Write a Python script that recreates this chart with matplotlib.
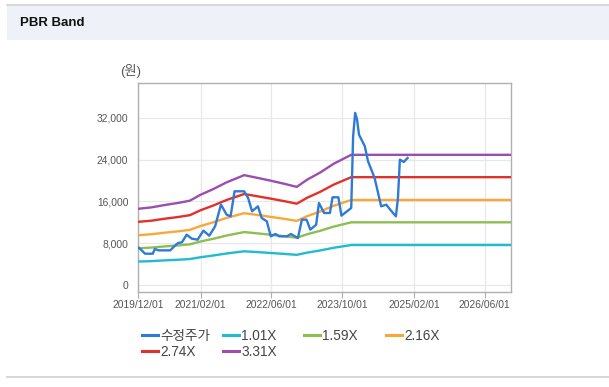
import matplotlib
matplotlib.use("Agg")
import matplotlib.pyplot as plt
import matplotlib.dates as mdates
from matplotlib.patches import Rectangle
from matplotlib.lines import Line2D
import numpy as np
import pandas as pd

plt.rcParams['font.family'] = ['Liberation Sans', 'Noto Sans CJK KR', 'DejaVu Sans']

# ---------------- data ----------------
price_dates = ["2019-12-01", "2019-12-22", "2020-01-18", "2020-03-11", "2020-03-25", "2020-04-20",
               "2020-07-09", "2020-08-05", "2020-08-31", "2020-09-27", "2020-10-29", "2020-12-03",
               "2021-01-12", "2021-02-21", "2021-04-02", "2021-05-12", "2021-06-21", "2021-07-30",
               "2021-08-26", "2021-09-22", "2021-11-27", "2021-12-24", "2022-01-20", "2022-03-01",
               "2022-03-27", "2022-05-01", "2022-05-28", "2022-06-29", "2022-07-25", "2022-09-16",
               "2022-10-13", "2022-11-09", "2022-11-30", "2022-12-27", "2023-01-28", "2023-02-23",
               "2023-04-04", "2023-04-23", "2023-05-28", "2023-07-07", "2023-07-25", "2023-09-03",
               "2023-09-24", "2023-11-30", "2023-12-13", "2023-12-27", "2024-01-09", "2024-01-22",
               "2024-03-02", "2024-03-24", "2024-05-08", "2024-06-22", "2024-07-27", "2024-08-23",
               "2024-10-01", "2024-10-15", "2024-10-28", "2024-11-24", "2024-12-20"]
price_values = [7170, 6720, 5950, 5950, 6850, 6590,
                6590, 7360, 8000, 8130, 9600, 8830,
                8640, 10370, 9400, 11200, 15360, 13440,
                13120, 17920, 17920, 16640, 14080, 15040,
                12800, 12160, 9280, 9730, 9280, 9280,
                9730, 9280, 8960, 12480, 12480, 10560,
                11520, 15680, 13760, 13760, 16770, 16770,
                13250, 14720, 28480, 32960, 31680, 28800,
                26560, 23680, 20480, 15040, 15360, 14400,
                13120, 16640, 24000, 23550, 24320]

band_dates = ["2019-12-01", "2020-03-01", "2020-06-01", "2020-09-01", "2020-11-20", "2021-02-01",
              "2021-05-01", "2021-08-01", "2021-11-27", "2022-03-01", "2022-06-01", "2022-09-01",
              "2022-11-22", "2023-02-01", "2023-05-01", "2023-08-01", "2023-11-30", "2026-12-01"]
band_101 = [4440, 4520, 4670, 4790, 4920, 5270, 5610, 6000, 6410, 6250, 6080, 5900,
            5730, 6150, 6570, 7080, 7610, 7610]
band_159 = [7000, 7120, 7350, 7540, 7740, 8290, 8820, 9450, 10100, 9840, 9570, 9290,
            9020, 9680, 10340, 11140, 11970, 11970]
band_216 = [9500, 9680, 9980, 10240, 10520, 11260, 11990, 12840, 13720, 13370, 13000, 12620,
            12250, 13150, 14040, 15130, 16260, 16260]
band_274 = [12060, 12280, 12660, 12990, 13340, 14280, 15210, 16280, 17400, 16950, 16490, 16010,
            15540, 16680, 17810, 19190, 20630, 20630]
band_331 = [14560, 14830, 15290, 15690, 16120, 17250, 18370, 19670, 21020, 20480, 19930, 19340,
            18770, 20150, 21520, 23190, 24920, 24920]

series_labels = ["수정주가", "1.01X", "1.59X", "2.16X", "2.74X", "3.31X"]
series_colors = ["#2f7ad6", "#1fbccf", "#8cbf4f", "#f8a838", "#e2302b", "#9a4ead"]

x_ticks = ["2019-12-01", "2021-02-01", "2022-06-01", "2023-10-01", "2025-02-01", "2026-06-01"]
y_ticks = [0, 8000, 16000, 24000, 32000]

# ---------------- figure ----------------
W, H = 609, 387
fig = plt.figure(figsize=(W / 100, H / 100), dpi=100)
fig.patch.set_facecolor("white")

def fx(px):
    return px / W

def fy(py):
    return 1 - py / H

# header band
fig.patches.append(Rectangle((fx(7), fy(40)), 1 - fx(7), fy(5) - fy(40),
                             transform=fig.transFigure, facecolor="#eef2f8",
                             edgecolor="none", zorder=0))
fig.lines.append(Line2D([fx(7), 1], [fy(4.5), fy(4.5)], transform=fig.transFigure,
                        color="#d2d2d2", lw=1.2))
fig.lines.append(Line2D([fx(7), 1], [fy(376.5), fy(376.5)], transform=fig.transFigure,
                        color="#cfcfcf", lw=1.2))
fig.text(fx(20), fy(23), "PBR Band", fontsize=9.5, fontweight="bold",
         color="#111111", ha="left", va="center")

ax = fig.add_axes([fx(138), fy(292), fx(511) - fx(138), fy(83) - fy(292)])
ax.set_facecolor("white")

pdates = pd.to_datetime(price_dates)
bdates = pd.to_datetime(band_dates)

bands = [band_101, band_159, band_216, band_274, band_331]
handles = []
h, = ax.plot(pdates, price_values, color=series_colors[0], lw=1.7, zorder=5,
             label=series_labels[0], solid_joinstyle="round")
handles.append(h)
for vals, lab, col in zip(bands, series_labels[1:], series_colors[1:]):
    h, = ax.plot(bdates, vals, color=col, lw=1.7, label=lab, zorder=4)
    handles.append(h)

ax.set_xlim(pd.Timestamp("2019-12-01"), pd.Timestamp("2026-11-28"))
ax.set_ylim(-1400, 38700)

ax.set_xticks(pd.to_datetime(x_ticks))
ax.xaxis.set_major_formatter(mdates.DateFormatter("%Y/%m/%d"))
ax.set_yticks(y_ticks)
ax.set_yticklabels([f"{v:,}" for v in y_ticks])

ax.grid(True, color="#e8e8e8", lw=0.9)
ax.set_axisbelow(True)
for s in ax.spines.values():
    s.set_color("#b0b0b0")
    s.set_linewidth(1.0)
ax.tick_params(axis="x", length=4, width=0.8, color="#b0b0b0", labelsize=7.4,
               labelcolor="#555555", pad=2)
ax.tick_params(axis="y", length=0, labelsize=7.4, labelcolor="#555555", pad=7)

fig.text(fx(131), fy(71), "(원)", fontsize=9.5, color="#555555", ha="center", va="center")

# legend: four fixed-width columns like the reference
columns = [([0, 4], 142), ([1, 5], 223), ([2], 304), ([3], 386)]
for idx, xpx in columns:
    leg = fig.legend([handles[i] for i in idx], [series_labels[i] for i in idx],
                     ncol=1, loc="upper left", bbox_to_anchor=(fx(xpx), fy(329)),
                     frameon=False, fontsize=9.8, handlelength=1.15, handletextpad=0.2,
                     labelspacing=0.12, borderaxespad=0, borderpad=0)
    for t in leg.get_texts():
        t.set_color("#444444")
    for l in leg.get_lines():
        l.set_linewidth(2.2)

fig.savefig("out.png", dpi=100, facecolor=fig.get_facecolor())
